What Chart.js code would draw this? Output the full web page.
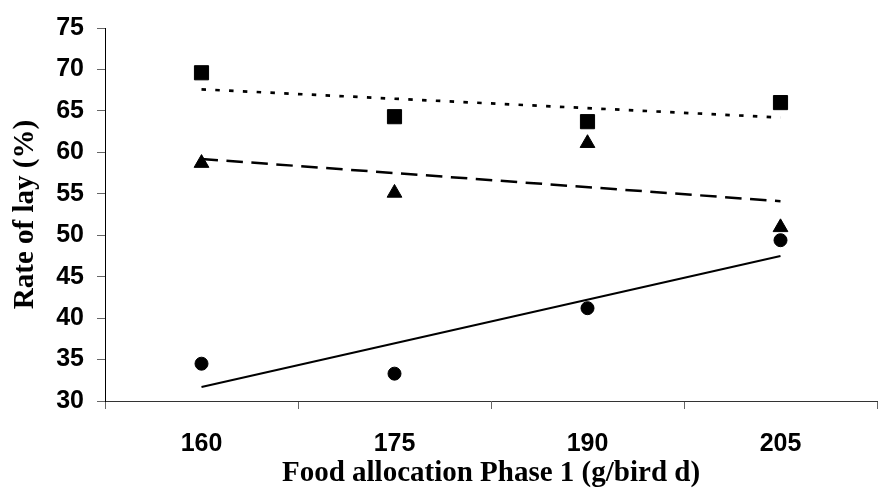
<!DOCTYPE html>
<html>
<head>
<meta charset="utf-8">
<script src="https://cdn.jsdelivr.net/npm/chart.js@4/dist/chart.umd.min.js"></script>
<style>
  html, body { margin: 0; padding: 0; background: #fff; overflow: hidden; }
  #wrap { width: 888px; height: 488px; }
</style>
</head>
<body>
<div id="wrap"><canvas id="chart" width="888" height="488"></canvas></div>
<script>
// Food allocation in phase 1 (g/bird d)
const allocations = ['160', '175', '190', '205'];

// Rate of lay (%) per group
const squareValues = [69.6, 64.3, 63.7, 66.0];
const triangleValues = [58.7, 55.1, 61.1, 50.95];
const circleValues = [34.5, 33.3, 41.2, 49.4];

// Trend lines: value at the first and last allocation
const squareTrend = [67.6, null, null, 64.2];
const triangleTrend = [59.2, null, null, 54.1];
const circleTrend = [31.7, null, null, 47.5];

const yTicks = { min: 30, max: 75, step: 5 };

const tickFont = { family: '"Liberation Sans", Arial, sans-serif', size: 25, weight: 'bold' };
const titleFont = { family: '"Liberation Serif", "Times New Roman", serif', size: 29, weight: 'bold' };

function markers(data, style, radius) {
  return {
    data: data,
    showLine: false,
    pointStyle: style,
    pointRadius: radius,
    pointBackgroundColor: '#000',
    pointBorderColor: '#000',
    pointBorderWidth: 1
  };
}

function trend(data, dash, width) {
  return {
    data: data,
    spanGaps: true,
    borderColor: '#000',
    borderWidth: width,
    borderDash: dash,
    pointRadius: 0
  };
}

const ctx = document.getElementById('chart').getContext('2d');

new Chart(ctx, {
  type: 'line',
  data: {
    labels: allocations,
    datasets: [
      trend(squareTrend, [4.5, 9.3], 2.7),
      trend(triangleTrend, [16.5, 8.5], 2.5),
      trend(circleTrend, [], 2),
      markers(squareValues, 'rect', 10),
      markers(triangleValues, 'triangle', 8.5),
      markers(circleValues, 'circle', 6.5)
    ]
  },
  options: {
    responsive: false,
    animation: false,
    layout: { padding: { top: 24, right: 0, bottom: 0, left: 0 } },
    plugins: {
      legend: { display: false },
      tooltip: { enabled: false }
    },
    scales: {
      x: {
        offset: true,
        grid: {
          offset: true,
          drawOnChartArea: false,
          tickLength: 8,
          tickColor: '#666'
        },
        border: { display: true, color: '#333', width: 1 },
        ticks: { color: '#000', font: tickFont, padding: 20, maxRotation: 0 },
        title: {
          display: true,
          text: 'Food allocation Phase 1 (g/bird d)',
          color: '#000',
          font: Object.assign({ lineHeight: 1.0 }, titleFont),
          padding: { top: 0, bottom: 0 }
        },
        afterFit: scale => { scale.height = 87; }
      },
      y: {
        min: yTicks.min,
        max: yTicks.max,
        grid: {
          drawOnChartArea: false,
          tickLength: 8,
          tickColor: '#666'
        },
        border: { display: true, color: '#000', width: 1 },
        ticks: { stepSize: yTicks.step, color: '#000', font: tickFont, padding: 13 },
        title: {
          display: true,
          text: 'Rate of lay (%)',
          color: '#000',
          font: titleFont,
          padding: { top: 8, bottom: 0 }
        },
        afterFit: scale => { scale.width = 105; }
      }
    }
  }
});
</script>
</body>
</html>
